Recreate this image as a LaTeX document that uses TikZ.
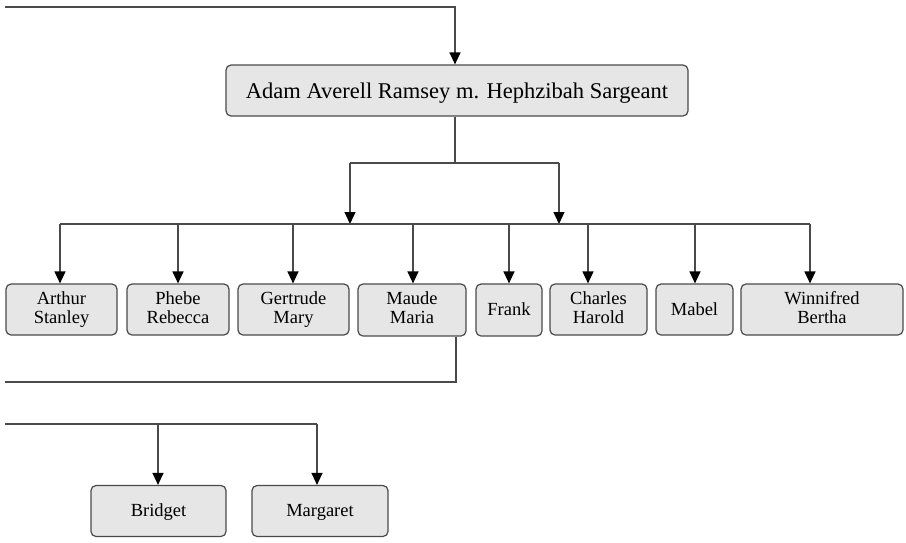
\documentclass[tikz,border=0pt]{standalone}
\usepackage{fontspec}
\setmainfont{Liberation Serif}
\usetikzlibrary{arrows.meta}
\definecolor{linegray}{HTML}{4A4A4A}
\definecolor{boxfill}{HTML}{E6E6E6}
\tikzset{
  person/.style={draw=linegray, fill=boxfill, line width=1.2pt, rounded corners=5pt,
    align=center, inner sep=0pt, minimum height=51pt, font=\fontsize{18.5}{19}\selectfont,
    execute at begin node={\rule{0pt}{16pt}}, execute at end node={\rule[-4.5pt]{0pt}{4.5pt}}},
  couple/.style={person, font=\fontsize{22.5}{24}\selectfont,
    execute at begin node={\rule{0pt}{20pt}}, execute at end node={\rule[-5pt]{0pt}{5pt}}},
  wire/.style={draw=linegray, line width=1.3pt},
  arr/.style={wire, -{Triangle[length=12pt,width=11pt,color=black,fill=black]}},
}
\begin{document}
\begin{tikzpicture}[x=1pt,y=-1pt]
\useasboundingbox (0,0) rectangle (906,542);
\node[couple, minimum width=462pt] (main) at (457,90.5) {Adam Averell Ramsey m. Hephzibah Sargeant};
\node[person, minimum width=111pt] (arthur) at (61.5,309.5) {Arthur\\Stanley};
\node[person, minimum width=102pt] (phebe) at (178,309.5) {Phebe\\Rebecca};
\node[person, minimum width=111pt] (gertrude) at (293.5,309.5) {Gertrude\\Mary};
\node[person, minimum width=108pt, minimum height=52pt] (maude) at (412,310) {Maude\\Maria};
\node[person, minimum width=66pt, minimum height=52pt] (frank) at (509,310) {Frank};
\node[person, minimum width=97pt] (charles) at (598.5,309.5) {Charles\\Harold};
\node[person, minimum width=77pt] (mabel) at (694.5,309.5) {Mabel};
\node[person, minimum width=162pt] (winnifred) at (822,309.5) {Winnifred\\Bertha};
\node[person, minimum width=135pt] (bridget) at (158.5,511) {Bridget};
\node[person, minimum width=136pt] (margaret) at (320,511) {Margaret};
% top incoming line
\coordinate (in0) at (5,7);
\coordinate (in1) at (455,7);
\draw[arr] (in0) -- (in1) -- (in1 |- main.north);
% from main down to junction
\coordinate (j0) at (455,163);
\coordinate (jl) at (350,163);
\coordinate (jr) at (559,163);
\coordinate (rowl) at (60,224);
\coordinate (rowr) at (810,224);
\draw[wire] (j0 |- main.south) -- (j0);
\draw[wire] (jl) -- (jr);
\draw[arr] (jl) -- (jl |- rowl);
\draw[arr] (jr) -- (jr |- rowl);
\draw[wire] (rowl) -- (rowr);
\foreach \x/\n in {60/arthur,178/phebe,293/gertrude,413/maude,509/frank,588/charles,695/mabel,810/winnifred}{
  \coordinate (d\n) at (\x,224);
  \draw[arr] (d\n) -- (d\n |- \n.north);
}
% outgoing from Maude
\coordinate (m1) at (456,382);
\coordinate (m2) at (5,382);
\draw[wire] (m1 |- maude.south) -- (m1) -- (m2);
% lower family
\coordinate (b0) at (5,424);
\coordinate (b1) at (158,424);
\coordinate (b2) at (317,424);
\draw[wire] (b0) -- (b2);
\draw[arr] (b1) -- (b1 |- bridget.north);
\draw[arr] (b2) -- (b2 |- margaret.north);
\end{tikzpicture}
\end{document}
